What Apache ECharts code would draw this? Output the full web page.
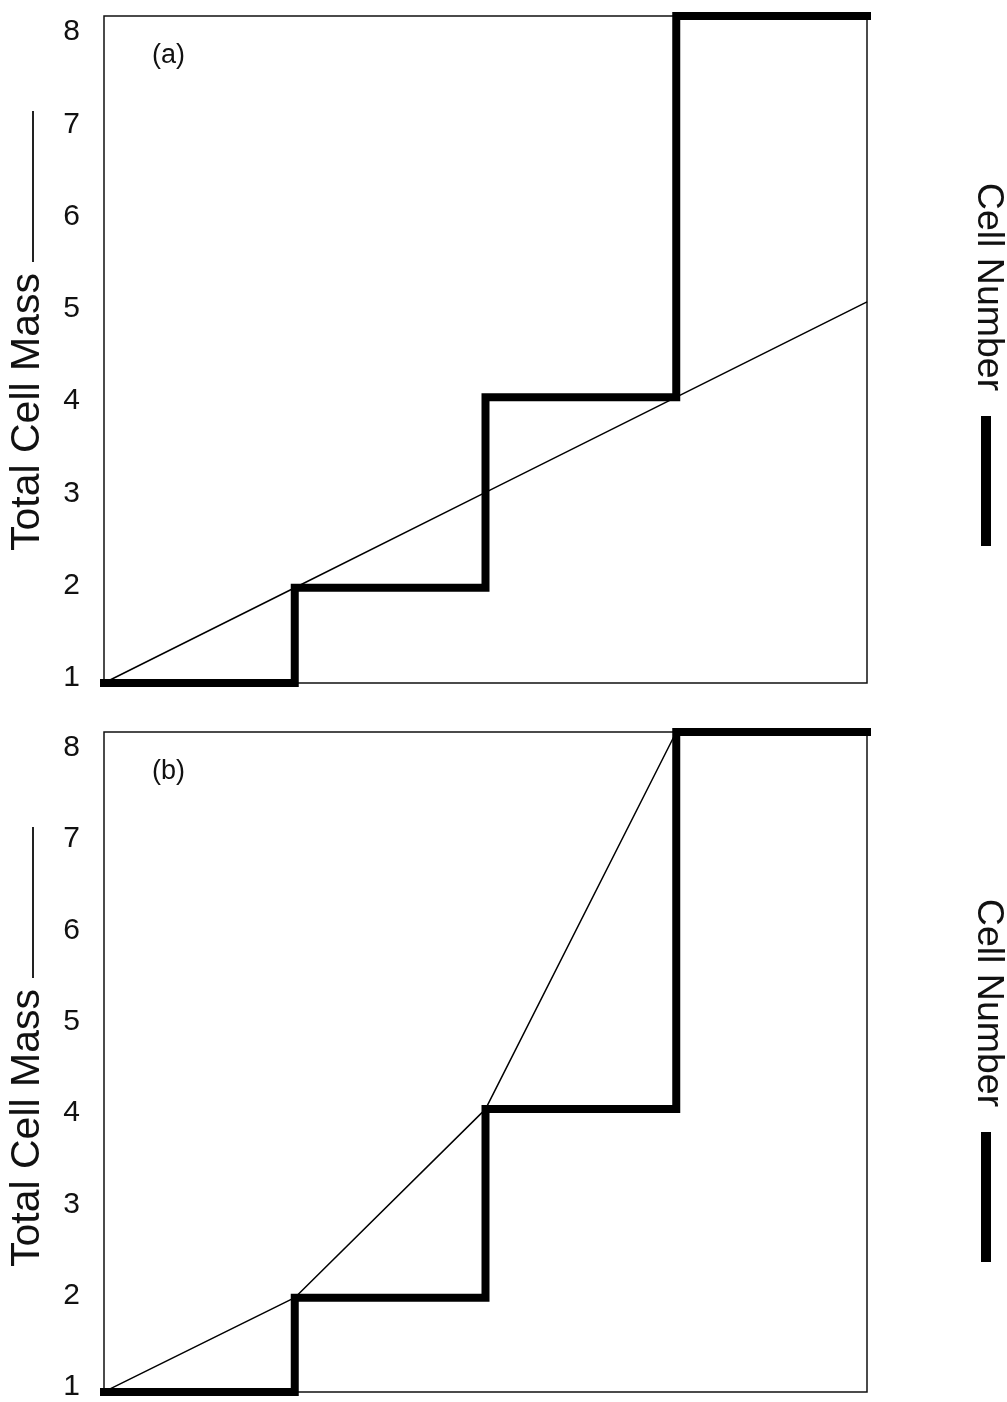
<!DOCTYPE html>
<html>
<head>
<meta charset="utf-8">
<script src="https://cdn.jsdelivr.net/npm/echarts@6/dist/echarts.min.js"></script>
<style>
html,body{margin:0;padding:0;background:#fff;}
#chart{width:1007px;height:1402px;}
</style>
</head>
<body>
<div id="chart"></div>
<script>
// Data
var time = [0, 1, 2, 3, 4];
var cellNumber = [1, 2, 4, 8, 8];
var timeMassA = [0, 1, 2, 3, 4];
var massA = [1, 2, 3, 4, 5];
var timeMassB = [0, 1, 2, 3];
var massB = [1, 2, 4, 8];
var yTicks = [1, 2, 3, 4, 5, 6, 7, 8];
var panelLabels = ['(a)', '(b)'];
var leftTitle = 'Total Cell Mass';
var rightTitle = 'Cell Number';
// tick labels in the original sit on a slightly compressed scale
var labelScaleRange = [0.9458, 8.1733];

function zip(xs, ys) { return xs.map(function (x, i) { return [x, ys[i]]; }); }

var FONT = 'Liberation Sans, Arial, Helvetica, sans-serif';
var INK = '#111';

var chart = echarts.init(document.getElementById('chart'), null, {renderer: 'canvas'});

function yAxisFor(i) {
  return {
    gridIndex: i, type: 'value', min: yTicks[0], max: yTicks[yTicks.length - 1], interval: 1,
    axisLine: {show: false}, axisTick: {show: false}, splitLine: {show: false},
    axisLabel: {show: false}
  };
}
function yLabelAxisFor(i) {
  return {
    gridIndex: i, type: 'value', position: 'left', min: labelScaleRange[0], max: labelScaleRange[1],
    axisLine: {show: false}, axisTick: {show: false}, splitLine: {show: false},
    axisLabel: {fontSize: 30, color: INK, margin: 24, fontFamily: FONT, customValues: yTicks,
      formatter: function (v) { return String(Math.round(v)); }}
  };
}
function xAxisFor(i) {
  return {gridIndex: i, type: 'value', min: 0, max: 4, show: false};
}
function gridFor(top, height) {
  return {left: 104, top: top, width: 763, height: height, show: true,
    borderColor: INK, borderWidth: 1.5, backgroundColor: 'transparent'};
}
function stepSeries(i) {
  return {type: 'line', xAxisIndex: i, yAxisIndex: i, data: zip(time, cellNumber),
    step: 'end', symbol: 'none', clip: false, z: 4,
    lineStyle: {color: '#000', width: 8, cap: 'square', join: 'miter'}};
}
function massSeries(i, xs, ys) {
  return {type: 'line', xAxisIndex: i, yAxisIndex: i, data: zip(xs, ys),
    symbol: 'none', clip: false, z: 3,
    lineStyle: {color: '#000', width: 1.5}};
}

var offsets = [0, 716];
var graphics = [];
offsets.forEach(function (dy, k) {
  graphics.push({type: 'text', left: 152, top: 42 + dy,
    style: {text: panelLabels[k], font: '27px ' + FONT, fill: INK}});
  graphics.push({type: 'text', x: 28, y: 412 + dy, rotation: Math.PI / 2,
    style: {text: leftTitle, font: '41px ' + FONT, fill: INK, align: 'center', verticalAlign: 'middle'}});
  graphics.push({type: 'line', shape: {x1: 33, y1: 111 + dy, x2: 33, y2: 262 + dy},
    style: {stroke: '#222', lineWidth: 2}});
  graphics.push({type: 'text', x: 988, y: 287 + dy, rotation: -Math.PI / 2,
    style: {text: rightTitle, font: '37.5px ' + FONT, fill: INK, align: 'center', verticalAlign: 'middle'}});
  graphics.push({type: 'rect', shape: {x: 981, y: 416 + dy, width: 10, height: 130},
    style: {fill: '#000'}});
});

chart.setOption({
  animation: false,
  backgroundColor: '#fff',
  grid: [gridFor(16, 667), gridFor(732, 666)],
  xAxis: [xAxisFor(0), xAxisFor(1)],
  yAxis: [yAxisFor(0), yAxisFor(1), yLabelAxisFor(0), yLabelAxisFor(1)],
  series: [
    massSeries(0, timeMassA, massA),
    stepSeries(0),
    massSeries(1, timeMassB, massB),
    stepSeries(1)
  ],
  graphic: graphics
});
</script>
</body>
</html>
